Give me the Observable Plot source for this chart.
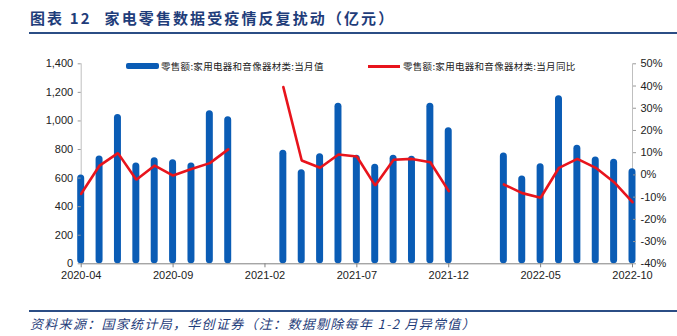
<!DOCTYPE html>
<html><head><meta charset="utf-8">
<script src="https://cdn.jsdelivr.net/npm/d3@7"></script>
<script src="https://cdn.jsdelivr.net/npm/@observablehq/plot@0.6"></script>
<style>
body{margin:0;background:#fff;width:677px;height:336px;position:relative;overflow:hidden;font-family:"Noto Sans CJK SC","Noto Sans",sans-serif}
#title{position:absolute;left:30px;top:7px;font-size:15px;font-weight:bold;color:#1f3d7a;letter-spacing:2.1px;white-space:nowrap;line-height:22px}
#title .num{margin-right:13px}
.rule{position:absolute;left:29px;width:648px;height:2px;background:#2b4d85}
#chart{position:absolute;left:0;top:40px}
.leg{position:absolute;font-size:9.5px;color:#222;white-space:nowrap;line-height:12px;letter-spacing:0.3px}
.sw{position:absolute}
#caption{position:absolute;left:30px;top:315px;font-size:13px;font-style:italic;color:#1f3d7a;letter-spacing:1.3px;white-space:nowrap;line-height:18px}
</style></head>
<body>
<div id="title"><span class="num">图表 12</span>家电零售数据受疫情反复扰动（亿元）</div>
<div class="rule" style="top:32px"></div>
<div id="chart"></div>
<div class="sw" style="left:126px;top:63px;width:33px;height:6px;background:#0a5cb5;border-radius:2px"></div>
<div class="leg" id="leg1" style="left:161px;top:60px"></div>
<div class="sw" style="left:368px;top:64.5px;width:32px;height:3px;background:#e8141c"></div>
<div class="leg" id="leg2" style="left:403px;top:60px"></div>
<div class="rule" style="top:310px"></div>
<div id="caption">资料来源：国家统计局，华创证券（注：数据剔除每年 1-2 月异常值）</div>
<script>
const seriesBar = "零售额:家用电器和音像器材类:当月值";
const seriesLine = "零售额:家用电器和音像器材类:当月同比";
const months = ["2020-04","2020-05","2020-06","2020-07","2020-08","2020-09","2020-10","2020-11","2020-12",
  "2021-01","2021-02","2021-03","2021-04","2021-05","2021-06","2021-07","2021-08","2021-09","2021-10","2021-11","2021-12",
  "2022-01","2022-02","2022-03","2022-04","2022-05","2022-06","2022-07","2022-08","2022-09","2022-10"];
const values = [622,754,1045,705,743,729,705,1072,1030,
  null,null,794,659,771,1123,759,696,759,752,1123,952,
  null,null,775,615,701,1177,829,747,731,666];
const yoy = [-8.5,4.2,9.8,-2.2,4.2,-0.3,2.7,5.3,11.5,
  null,null,39.5,6.5,3.2,9.2,8.3,-4.8,6.8,7.2,5.7,-7.3,
  null,null,-4.3,-8.2,-10.3,3.2,7.2,3.2,-3.3,-12.3];
const xTickLabels = ["2020-04","2020-09","2021-02","2021-07","2021-12","2022-05","2022-10"];
const leftTicks = [0,200,400,600,800,1000,1200,1400];
const rightTicks = [-40,-30,-20,-10,0,10,20,30,40,50];

document.getElementById("leg1").textContent = seriesBar;
document.getElementById("leg2").textContent = seriesLine;

const leftMax = 1400, rMin = -40, rMax = 50;
const toLeft = p => (p - rMin) * leftMax / (rMax - rMin);
const fromLeft = v => Math.round(v * (rMax - rMin) / leftMax + rMin);

const data = months.map((m, i) => ({i, m, v: values[i], p: yoy[i]}));
const xTicks = xTickLabels.map(l => months.indexOf(l));
const hw = 0.19;

const chart = Plot.plot({
  width: 677, height: 250,
  marginLeft: 80.7, marginRight: 45, marginTop: 23.3, marginBottom: 26.7,
  style: {fontFamily: "'Liberation Sans', Arial, sans-serif", fontSize: "11px", color: "#222", background: "transparent"},
  x: {domain: [0, months.length - 1], axis: null, label: null},
  y: {domain: [0, leftMax], axis: null, label: null},
  marks: [
    Plot.ruleX([0, months.length - 1], {stroke: "#bfbfbf", strokeWidth: 1}),
    Plot.rect(data.filter(d => d.v != null), {
      x1: d => d.i - hw, x2: d => d.i + hw, y1: () => 0, y2: d => d.v,
      fill: "#0a5cb5", rx: 3.5
    }),
    Plot.ruleY([0], {stroke: "#808080", strokeWidth: 1}),
    Plot.axisY(leftTicks, {anchor: "left", tickFormat: d3.format(","), tickSize: 3, tickPadding: 5, stroke: "#999", label: null, fontSize: 11}),
    Plot.axisY(rightTicks.map(toLeft), {anchor: "right", tickFormat: d => fromLeft(d) + "%", tickSize: 3, tickPadding: 5, stroke: "#999", label: null, fontSize: 11}),
    Plot.axisX(xTicks, {anchor: "bottom", tickFormat: i => months[i], tickSize: 4, tickPadding: 3, stroke: "#808080", label: null, fontSize: 11}),
    Plot.line(data, {x: "i", y: d => d.p == null ? NaN : toLeft(d.p), stroke: "#e8141c", strokeWidth: 2.6, strokeLinejoin: "miter"})
  ]
});
document.getElementById("chart").appendChild(chart);
</script>
</body></html>
